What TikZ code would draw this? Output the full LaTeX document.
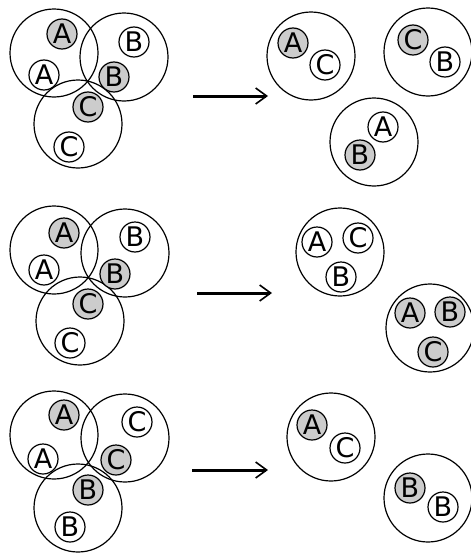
\documentclass[tikz,border=0pt]{standalone}
\usepackage{fontspec}
\setmainfont{DejaVu Sans}
\usetikzlibrary{arrows.meta}
\begin{document}
\begin{tikzpicture}[x=1pt,y=-1pt,
  big/.style={draw,circle,line width=1.2pt,inner sep=0pt,minimum size=88pt},
  sm/.style={draw,circle,line width=1.2pt,inner sep=0pt,minimum size=30pt,font=\fontsize{27pt}{27pt}\selectfont},
  gr/.style={sm,fill=black!20},
  wh/.style={sm,fill=white},
  arr/.style={line width=3pt,-{Straight Barb[length=11pt,width=16pt,line width=1.6pt]}}]
\useasboundingbox (0,0) rectangle (471,554);
% Row 1 left
\node[big] (r1a) at (54,53) {};
\node[big] (r1b) at (124,57) {};
\node[big] (r1c) at (78,124) {};
\node[gr] (r1ga) at (62,34) {A};
\node[wh] (r1wa) at (44,75) {A};
\node[wh] (r1wb) at (134,42) {B};
\node[gr] (r1gb) at (114,77) {B};
\node[gr] (r1gc) at (88,107) {C};
\node[wh] (r1wc) at (69,147) {C};
\coordinate (r1s) at (193,96);
\coordinate (r1e) at (268,96);
\draw[arr] (r1s) -- (r1e);
% Row 1 right
\node[big] (r1p) at (311,56) {};
\node[gr] (r1pa) at (293,43) {A};
\node[wh] (r1pc) at (325,65) {C};
\node[big] (r1q) at (428,52) {};
\node[gr] (r1qc) at (413,40) {C};
\node[wh] (r1qb) at (445,62) {B};
\node[big] (r1r) at (374,142) {};
\node[wh] (r1ra) at (383,127) {A};
\node[gr] (r1rb) at (360,155) {B};
% Row 2 left
\node[big] (r2a) at (54,250) {};
\node[big] (r2b) at (125,253) {};
\node[big] (r2c) at (80,321) {};
\node[gr] (r2ga) at (64,233) {A};
\node[wh] (r2wa) at (44,270) {A};
\node[wh] (r2wb) at (135,237) {B};
\node[gr] (r2gb) at (115,274) {B};
\node[gr] (r2gc) at (88,304) {C};
\node[wh] (r2wc) at (70,343) {C};
\coordinate (r2s) at (197,293);
\coordinate (r2e) at (272,293);
\draw[arr] (r2s) -- (r2e);
% Row 2 right
\node[big] (r2p) at (340,252) {};
\node[wh] (r2pa) at (317,242) {A};
\node[wh] (r2pc) at (358,238) {C};
\node[wh] (r2pb) at (341,277) {B};
\node[big] (r2q) at (430,328) {};
\node[gr] (r2qa) at (410,313) {A};
\node[gr] (r2qb) at (450,312) {B};
\node[gr] (r2qc) at (433,352) {C};
% Row 3 left
\node[big] (r3a) at (54,435) {};
\node[big] (r3c) at (125,438) {};
\node[big] (r3b) at (78,508) {};
\node[gr] (r3ga) at (64,415) {A};
\node[wh] (r3wa) at (43,459) {A};
\node[wh] (r3wc) at (137,422) {C};
\node[gr] (r3gc) at (116,460) {C};
\node[gr] (r3gb) at (88,490) {B};
\node[wh] (r3wb) at (70,527) {B};
\coordinate (r3s) at (192,470);
\coordinate (r3e) at (268,470);
\draw[arr] (r3s) -- (r3e);
% Row 3 right
\node[big] (r3p) at (331,437) {};
\node[gr] (r3pa) at (312,425) {A};
\node[wh] (r3pc) at (345,448) {C};
\node[big] (r3q) at (428,498) {};
\node[gr] (r3qb) at (410,488) {B};
\node[wh] (r3qbb) at (443,507) {B};
\end{tikzpicture}
\end{document}
